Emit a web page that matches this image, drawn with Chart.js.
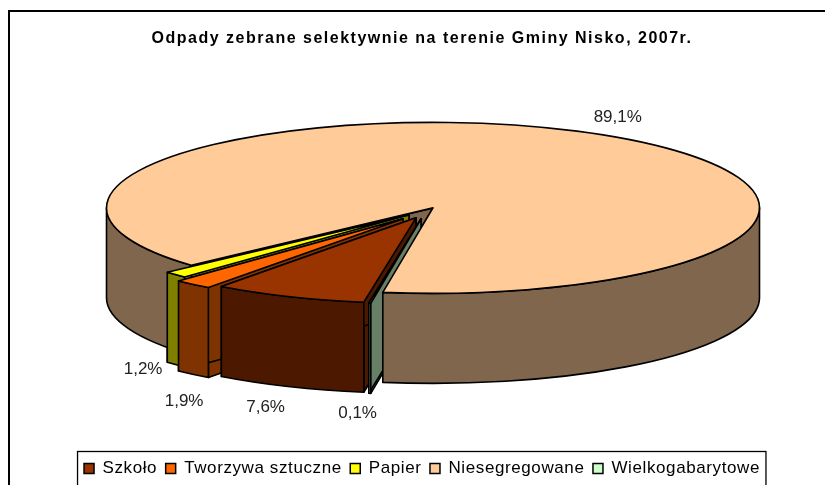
<!DOCTYPE html>
<html><head><meta charset="utf-8">
<style>html,body{margin:0;padding:0;background:#fff}canvas{display:block}</style>
<script src="https://cdn.jsdelivr.net/npm/chart.js@4/dist/chart.umd.min.js"></script>
</head><body><canvas id="c" width="825" height="485"></canvas>
<script>
const titleText = "Odpady zebrane selektywnie na terenie Gminy Nisko, 2007r.";
const categories = ["Szkoło","Tworzywa sztuczne","Papier","Niesegregowane","Wielkogabarytowe"];
const values = [7.6,1.9,1.2,89.1,0.1];
const colors = ["#993300","#FF6600","#FFFF00","#FFCC99","#CCFFCC"];
const explode = [[-17,10],[-30,11],[-24,7],[0,0],[-12,11]];
const labelNudge = [[2,5],[33,14],[14,-7],[-1,0],[-2,3]];
const view = {shiftX:11, shiftY:-46, rx:326.5, ry:85.5, depth:90, labelDist:1.2};
const legendSpacing = '0.6px', titleSpacing = '1.5px';

function wallColor(hex){
  const n=parseInt(hex.slice(1),16);
  return `rgb(${(n>>16&255)>>1},${(n>>8&255)>>1},${(n&255)>>1})`;
}
function frontIntervals(a0,a1){
  const out=[];
  for(let k=-2;k<=2;k++){
    const lo=Math.max(a0,2*Math.PI*k), hi=Math.min(a1,Math.PI+2*Math.PI*k);
    if(hi>lo) out.push([lo,hi]);
  }
  return out;
}
function paint(ctx,fill){ctx.fillStyle=fill;ctx.fill();ctx.stroke();}
function drawCuts(ctx,el,i,cx,cy){
  const {rx,ry,depth}=view, w=wallColor(colors[i]);
  for(const a of [el.startAngle,el.endAngle]){
    const x=cx+rx*Math.cos(a), y=cy+ry*Math.sin(a);
    ctx.beginPath();ctx.moveTo(cx,cy);ctx.lineTo(x,y);ctx.lineTo(x,y+depth);ctx.lineTo(cx,cy+depth);ctx.closePath();
    paint(ctx,w);
  }
}
function drawBody(ctx,el,i,cx,cy){
  const {rx,ry,depth}=view, {startAngle:a0,endAngle:a1}=el, w=wallColor(colors[i]);
  for(const [lo,hi] of frontIntervals(a0,a1)){
    ctx.beginPath();
    ctx.ellipse(cx,cy,rx,ry,0,lo,hi);
    ctx.ellipse(cx,cy+depth,rx,ry,0,hi,lo,true);
    ctx.closePath();
    paint(ctx,w);
  }
  ctx.beginPath();ctx.moveTo(cx,cy);ctx.ellipse(cx,cy,rx,ry,0,a0,a1);ctx.closePath();
  paint(ctx,colors[i]);
}
const pie3d={
  id:'pie3d',
  beforeLayout(chart){chart.ctx.letterSpacing=legendSpacing;},
  beforeDraw(chart){
    const ctx=chart.ctx;
    ctx.letterSpacing='0px';
    ctx.save();
    ctx.fillStyle='#fff';ctx.fillRect(0,0,chart.width,chart.height);
    ctx.strokeStyle='#000';ctx.lineWidth=2;
    ctx.beginPath();ctx.moveTo(9,chart.height);ctx.lineTo(9,11);ctx.lineTo(chart.width,11);ctx.stroke();
    const hb=chart.legend.legendHitBoxes;
    const l=Math.min(...hb.map(b=>b.left))-6.5, r=Math.max(...hb.map(b=>b.left+b.width))+6;
    ctx.lineWidth=1.3;
    ctx.strokeRect(l,chart.legend.top,r-l,chart.height);
    ctx.restore();
    const t=chart.titleBlock, lg=chart.legend;
    if(!t._spaced){
      t._spaced=true;
      const dt=t.draw.bind(t), dl=lg.draw.bind(lg);
      t.draw=(...a)=>{ctx.letterSpacing=titleSpacing;dt(...a);ctx.letterSpacing='0px';};
      lg.draw=(...a)=>{ctx.letterSpacing=legendSpacing;dl(...a);ctx.letterSpacing='0px';};
    }
  },
  beforeDatasetDraw(chart){
    const ctx=chart.ctx, arcs=chart.getDatasetMeta(0).data;
    ctx.save();
    ctx.strokeStyle='#000';ctx.lineWidth=1.6;ctx.lineJoin='round';
    const mid=el=>Math.sin((el.startAngle+el.endAngle)/2);
    const order=arcs.map((el,i)=>i).sort((p,q)=>mid(arcs[p])-mid(arcs[q]));
    const at=i=>[arcs[i],i,arcs[i].x+view.shiftX+explode[i][0],arcs[i].y+view.shiftY+explode[i][1]];
    for(const i of order) drawCuts(ctx,...at(i));
    for(const i of order) drawBody(ctx,...at(i));
    ctx.fillStyle='#222';ctx.font='17px "Liberation Sans"';ctx.textAlign='center';ctx.textBaseline='middle';
    arcs.forEach((el,i)=>{
      const m=(el.startAngle+el.endAngle)/2, s=Math.sin(m);
      const x=el.x+view.shiftX+explode[i][0]+view.rx*view.labelDist*Math.cos(m)+labelNudge[i][0];
      const y=el.y+view.shiftY+explode[i][1]+view.ry*view.labelDist*s+(s>0?view.depth:0)+labelNudge[i][1];
      ctx.fillText(values[i].toFixed(1).replace('.',',')+'%',x,y);
    });
    ctx.restore();
    return false;
  }
};
new Chart(document.getElementById('c'),{
  type:'pie',
  data:{labels:categories,datasets:[{data:values,backgroundColor:colors,borderColor:'#000',borderWidth:1.5}]},
  options:{
    responsive:false,animation:false,rotation:189.2,
    layout:{padding:{left:19,right:0,top:0,bottom:-2}},
    plugins:{
      tooltip:{enabled:false},
      title:{display:true,text:titleText,color:'#000',font:{family:'"Liberation Sans"',size:16,weight:'bold'},padding:{top:29,bottom:8}},
      legend:{position:'bottom',labels:{color:'#000',boxWidth:10,boxHeight:10,padding:8.5,font:{family:'"Liberation Sans"',size:17}}}
    }
  },
  plugins:[pie3d]
});
</script></body></html>
